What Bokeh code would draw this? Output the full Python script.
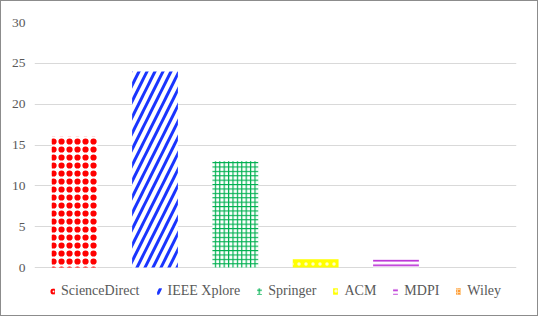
from bokeh.plotting import figure
from bokeh.models import ColumnDataSource, FixedTicker, Legend, LegendItem
from bokeh.embed import file_html
from bokeh.resources import INLINE

# data
sources = ["ScienceDirect", "IEEE Xplore", "Springer", "ACM", "MDPI", "Wiley"]
counts = [16, 24, 13, 1, 1, 0]
y_ticks = [0, 5, 10, 15, 20, 25, 30]

# styles (per bar)
fill_colors = ["#FFFFFF", "#FFFFFF", "#FFFFFF", "#FFFF00", "#FFFFFF", "#FF9A33"]
hatch_colors = ["#FF0000", "#1A35FF", "#00B050", "#FFFFC8", "#B41ED2", "#FFD29A"]
hatch_patterns = ["ring", "right_diagonal_line", "cross", "dot", "horizontal_line", "cross"]
hatch_scales = [8, 16, 4.4, 7, 4.5, 3]
hatch_weights = [2.2, 3, 1.2, 1, 1.6, 1]
# second hatch layer (fills the ring centres of the dotted bar)
overlay_patterns = ["dot", " ", " ", " ", " ", " "]

src = ColumnDataSource(dict(
    src=sources, n=counts, fc=fill_colors, hc=hatch_colors,
    hp=hatch_patterns, hs=hatch_scales, hw=hatch_weights, op=overlay_patterns,
))

p = figure(
    x_range=sources, y_range=(-5.14, 30), width=538, height=316,
    output_backend="svg", toolbar_location=None,
    min_border_left=33, min_border_right=23, min_border_top=21, min_border_bottom=8,
)
p.styles = {"border": "1px solid #8c8c8c"}
p.x_range.range_padding = 0
p.outline_line_color = None
p.background_fill_color = "white"
p.border_fill_color = "white"

r = p.vbar(x="src", top="n", width=0.57, source=src, line_color=None,
           fill_color="fc", hatch_color="hc", hatch_pattern="hp",
           hatch_scale="hs", hatch_weight="hw")
p.vbar(x="src", top="n", width=0.57, source=src, line_color=None,
       fill_color=None, hatch_color="hc", hatch_pattern="op",
       hatch_scale="hs", hatch_weight="hw")

p.xaxis.visible = False
p.xgrid.visible = False
p.ygrid.grid_line_color = "#d9d9d9"
p.ygrid.grid_line_width = 1
p.yaxis.ticker = FixedTicker(ticks=y_ticks)
p.yaxis.axis_line_color = None
p.yaxis.major_tick_line_color = None
p.yaxis.minor_tick_line_color = None
p.yaxis.major_tick_out = 0
p.yaxis.major_tick_in = 0
p.yaxis.major_label_text_font = "Liberation Serif"
p.yaxis.major_label_text_font_size = "13.5px"
p.yaxis.major_label_text_color = "#595959"
p.yaxis.major_label_standoff = 9

items = [LegendItem(label=s, renderers=[r], index=i) for i, s in enumerate(sources)]
legend = Legend(items=items, orientation="horizontal", location="bottom_center",
                label_text_font="Liberation Serif", label_text_font_size="14px",
                label_text_color="#595959", glyph_width=6, glyph_height=8,
                label_height=16, label_standoff=6, spacing=16,
                padding=0, margin=10, border_line_color=None,
                background_fill_alpha=0)
p.add_layout(legend)

open("out.html", "w").write(file_html(p, INLINE))
